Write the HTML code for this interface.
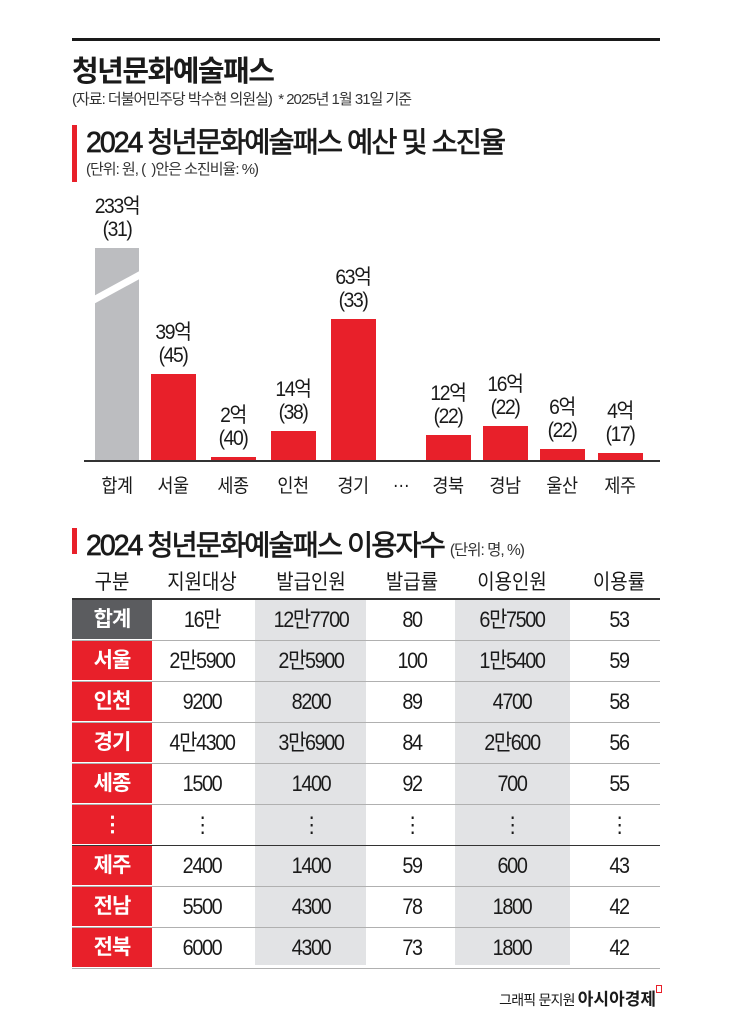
<!DOCTYPE html>
<html><head><meta charset="utf-8"><style>
*{margin:0;padding:0;box-sizing:border-box}
body{width:734px;height:1024px;background:#fff;position:relative;overflow:hidden;font-family:"Liberation Sans","Noto Sans CJK KR",sans-serif;color:#1a1a1a}
.a{position:absolute;white-space:nowrap}
.t{font-weight:bold;letter-spacing:-1.5px}
.c{text-align:center;transform:translateX(-50%) scaleX(0.9)}
.bar{position:absolute;background:#e8202a}
.lbl{position:absolute;font-size:21px;line-height:23px;text-align:center;letter-spacing:-1.5px;transform:translateX(-50%) scaleX(0.92)}
.xl{position:absolute;top:471px;font-size:19px;transform:translateX(-50%) scaleX(0.92);letter-spacing:-0.5px}
.row{position:absolute;left:72px;width:588px;height:41px;border-bottom:1.5px solid #b0b0b0}
.row div{position:absolute;top:0;height:40px;line-height:40px;font-size:22px;letter-spacing:-1.5px;transform:translateX(-50%) scaleX(0.9)}
.row .k{left:0;width:80px;transform:none;text-align:center;color:#fff;font-weight:bold;background:#e8202a;border-bottom:1px solid #fff;font-size:21px;letter-spacing:-1px}
</style></head><body>
<div class="a" style="left:72px;top:38px;width:588px;height:3px;background:#1a1a1a"></div>
<div class="a t" style="left:72px;top:48px;font-size:29px">청년문화예술패스</div>
<div class="a" style="left:72px;top:88px;font-size:15px;letter-spacing:-1px;color:#333">(자료: 더불어민주당 박수현 의원실) &nbsp;* 2025년 1월 31일 기준</div>
<div class="a" style="left:72px;top:125px;width:5px;height:57px;background:#e8202a"></div>
<div class="a t" style="left:86px;top:120px;font-size:28.5px;font-weight:normal;-webkit-text-stroke:0.7px #1a1a1a;letter-spacing:-2px">2024 청년문화예술패스 예산 및 소진율</div>
<div class="a" style="left:86px;top:158px;font-size:15px;letter-spacing:-1px;color:#333">(단위: 원, (&nbsp; )안은 소진비율: %)</div>

<div class="bar" style="left:95px;top:248px;width:44px;height:213px;background:#bcbdc0"></div>
<svg class="a" style="left:90px;top:270px" width="55" height="40"><polygon points="0,28 55,-2 55,6 0,36" fill="#fff"/></svg>
<div class="bar" style="left:151px;top:374px;width:45px;height:87px"></div>
<div class="bar" style="left:211px;top:457px;width:45px;height:4px"></div>
<div class="bar" style="left:271px;top:431px;width:45px;height:30px"></div>
<div class="bar" style="left:331px;top:319px;width:45px;height:142px"></div>
<div class="bar" style="left:426px;top:435px;width:45px;height:26px"></div>
<div class="bar" style="left:483px;top:426px;width:45px;height:35px"></div>
<div class="bar" style="left:540px;top:449px;width:45px;height:12px"></div>
<div class="bar" style="left:598px;top:453px;width:45px;height:8px"></div>
<div class="a" style="left:84px;top:460px;width:576px;height:2px;background:#333"></div>

<div class="lbl" style="left:117px;top:195px">233억<br>(31)</div>
<div class="lbl" style="left:173px;top:321px">39억<br>(45)</div>
<div class="lbl" style="left:233px;top:404px">2억<br>(40)</div>
<div class="lbl" style="left:293px;top:378px">14억<br>(38)</div>
<div class="lbl" style="left:353px;top:266px">63억<br>(33)</div>
<div class="lbl" style="left:448px;top:382px">12억<br>(22)</div>
<div class="lbl" style="left:505px;top:373px">16억<br>(22)</div>
<div class="lbl" style="left:562px;top:396px">6억<br>(22)</div>
<div class="lbl" style="left:620px;top:400px">4억<br>(17)</div>

<div class="xl" style="left:117px">합계</div>
<div class="xl" style="left:173px">서울</div>
<div class="xl" style="left:233px">세종</div>
<div class="xl" style="left:293px">인천</div>
<div class="xl" style="left:353px">경기</div>
<div class="xl" style="left:401px">…</div>
<div class="xl" style="left:448px">경북</div>
<div class="xl" style="left:505px">경남</div>
<div class="xl" style="left:562px">울산</div>
<div class="xl" style="left:620px">제주</div>

<div class="a" style="left:72px;top:528px;width:5px;height:26px;background:#e8202a"></div>
<div class="a t" style="left:86px;top:523px;font-size:28.5px;font-weight:normal;-webkit-text-stroke:0.7px #1a1a1a;letter-spacing:-2px">2024 청년문화예술패스 이용자수 <span style="font-size:15.5px;-webkit-text-stroke:0;letter-spacing:-1px;color:#333">(단위: 명, %)</span></div>

<div class="a" style="left:255px;top:600px;width:111px;height:365px;background:#e2e3e5"></div>
<div class="a" style="left:455px;top:600px;width:115px;height:365px;background:#e2e3e5"></div>

<div class="a c" style="left:112px;top:566px;font-size:21px">구분</div>
<div class="a c" style="left:202px;top:566px;font-size:21px">지원대상</div>
<div class="a c" style="left:311px;top:566px;font-size:21px">발급인원</div>
<div class="a c" style="left:412px;top:566px;font-size:21px">발급률</div>
<div class="a c" style="left:512px;top:566px;font-size:21px">이용인원</div>
<div class="a c" style="left:619px;top:566px;font-size:21px">이용률</div>
<div class="a" style="left:72px;top:598px;width:588px;height:2px;background:#333"></div>

<div class="row" style="top:600px"><div class="k" style="background:#5b5c5f">합계</div><div style="left:130px">16만</div><div style="left:239px">12만7700</div><div style="left:340px">80</div><div style="left:440px">6만7500</div><div style="left:547px">53</div></div>
<div class="row" style="top:641px"><div class="k">서울</div><div style="left:130px">2만5900</div><div style="left:239px">2만5900</div><div style="left:340px">100</div><div style="left:440px">1만5400</div><div style="left:547px">59</div></div>
<div class="row" style="top:682px"><div class="k">인천</div><div style="left:130px">9200</div><div style="left:239px">8200</div><div style="left:340px">89</div><div style="left:440px">4700</div><div style="left:547px">58</div></div>
<div class="row" style="top:723px"><div class="k">경기</div><div style="left:130px">4만4300</div><div style="left:239px">3만6900</div><div style="left:340px">84</div><div style="left:440px">2만600</div><div style="left:547px">56</div></div>
<div class="row" style="top:764px"><div class="k">세종</div><div style="left:130px">1500</div><div style="left:239px">1400</div><div style="left:340px">92</div><div style="left:440px">700</div><div style="left:547px">55</div></div>
<div class="row" style="top:805px;border-bottom-color:#333"><div class="k">⋮</div><div style="left:130px">⋮</div><div style="left:239px">⋮</div><div style="left:340px">⋮</div><div style="left:440px">⋮</div><div style="left:547px">⋮</div></div>
<div class="row" style="top:846px"><div class="k">제주</div><div style="left:130px">2400</div><div style="left:239px">1400</div><div style="left:340px">59</div><div style="left:440px">600</div><div style="left:547px">43</div></div>
<div class="row" style="top:887px"><div class="k">전남</div><div style="left:130px">5500</div><div style="left:239px">4300</div><div style="left:340px">78</div><div style="left:440px">1800</div><div style="left:547px">42</div></div>
<div class="row" style="top:928px"><div class="k">전북</div><div style="left:130px">6000</div><div style="left:239px">4300</div><div style="left:340px">73</div><div style="left:440px">1800</div><div style="left:547px">42</div></div>

<div class="a" style="right:78px;top:985px;font-size:14px;letter-spacing:-0.8px">그래픽 문지원 <b style="font-size:17px;letter-spacing:0">아시아경제</b></div>
<div class="a" style="left:656px;top:985px;width:6px;height:8px;border:1.5px solid #e8202a"></div>
</body></html>
